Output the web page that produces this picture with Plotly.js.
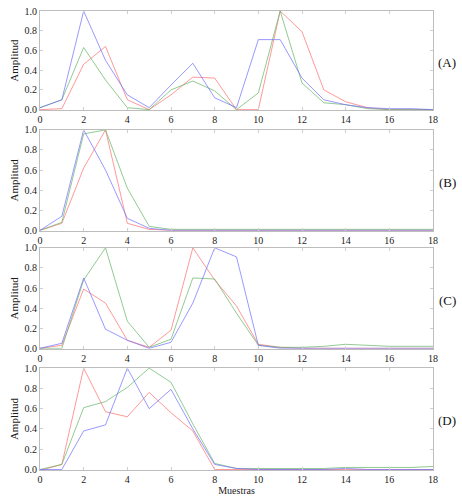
<!DOCTYPE html>
<html>
<head>
<meta charset="utf-8">
<script src="https://cdn.plot.ly/plotly-3.0.1.min.js"></script>
<style>html,body{margin:0;padding:0;background:#fff;}</style>
</head>
<body>
<div id="chart" style="width:462px;height:503px;"></div>
<script>
const muestras = [0,1,2,3,4,5,6,7,8,9,10,11,12,13,14,15,16,17,18];
const panelLabels = ['(A)','(B)','(C)','(D)'];

const azulA  = [0.02,0.10,1.00,0.50,0.15,0.02,0.25,0.47,0.12,0.02,0.71,0.71,0.32,0.10,0.05,0.02,0.01,0.01,0.00];
const verdeA = [0.02,0.10,0.63,0.30,0.02,0.00,0.20,0.29,0.19,0.00,0.17,1.00,0.27,0.07,0.05,0.01,0.00,0.00,0.00];
const rojoA  = [0.00,0.01,0.46,0.64,0.10,0.00,0.15,0.33,0.32,0.00,0.00,1.00,0.79,0.20,0.08,0.02,0.00,0.00,0.00];

const azulB  = [0.00,0.14,1.00,0.60,0.12,0.02,0.00,0.00,0.00,0.00,0.00,0.00,0.00,0.00,0.00,0.00,0.00,0.00,0.00];
const verdeB = [0.00,0.08,0.96,1.00,0.42,0.04,0.01,0.01,0.01,0.01,0.01,0.01,0.01,0.01,0.01,0.01,0.01,0.01,0.01];
const rojoB  = [0.00,0.07,0.62,1.00,0.07,0.01,0.00,0.00,0.00,0.00,0.00,0.00,0.00,0.00,0.00,0.00,0.00,0.00,0.00];

const azulC  = [0.00,0.05,0.70,0.19,0.08,0.00,0.06,0.45,1.00,0.91,0.03,0.00,0.00,0.00,0.00,0.00,0.00,0.00,0.00];
const verdeC = [0.00,0.00,0.68,1.00,0.27,0.01,0.09,0.70,0.69,0.35,0.03,0.01,0.01,0.02,0.04,0.03,0.02,0.02,0.02];
const rojoC  = [0.00,0.03,0.59,0.45,0.08,0.01,0.18,1.00,0.68,0.42,0.04,0.01,0.00,0.00,0.00,0.00,0.00,0.00,0.00];

const azulD  = [0.00,0.00,0.38,0.44,1.00,0.60,0.79,0.40,0.05,0.01,0.00,0.00,0.00,0.00,0.01,0.00,0.00,0.00,0.00];
const verdeD = [0.00,0.05,0.61,0.67,0.81,1.00,0.86,0.45,0.06,0.01,0.01,0.01,0.01,0.01,0.02,0.02,0.02,0.02,0.03];
const rojoD  = [-0.01,0.05,1.00,0.57,0.52,0.76,0.56,0.38,0.00,0.00,0.00,0.00,0.00,0.00,0.00,0.00,0.00,0.00,0.00];

const yTicks = [0,0.2,0.4,0.6,0.8,1.0];
const xTicks = [0,2,4,6,8,10,12,14,16,18];

const panels = [
  [azulA, verdeA, rojoA],
  [azulB, verdeB, rojoB],
  [azulC, verdeC, rojoC],
  [azulD, verdeD, rojoD]
];
const colors = ['rgba(110,110,255,0.7)','rgba(100,180,100,0.7)','rgba(255,110,110,0.7)'];
const domains = [[0.784,1.0],[0.521,0.741],[0.264,0.484],[0.0,0.222]];
const serif = '"Liberation Serif", "Times New Roman", serif';

const traces = [];
const layout = {
  width: 462, height: 503,
  margin: {l:40, r:29, t:11, b:33},
  paper_bgcolor: '#fff', plot_bgcolor: '#fff',
  showlegend: false,
  font: {family: serif, size: 10, color: '#222'},
  annotations: []
};

panels.forEach((series, i) => {
  const n = i + 1;
  const xa = 'x' + (n === 1 ? '' : n);
  const ya = 'y' + (n === 1 ? '' : n);
  [2,1,0].forEach(k => {
    traces.push({
      x: muestras, y: series[k], type: 'scatter', mode: 'lines',
      xaxis: xa, yaxis: ya,
      line: {color: colors[k], width: 1},
      hoverinfo: 'skip'
    });
  });
  const xkey = 'xaxis' + (n === 1 ? '' : n);
  const ykey = 'yaxis' + (n === 1 ? '' : n);
  layout[xkey] = {
    domain: [0,1], anchor: ya, range: [0,18],
    tickvals: xTicks, ticktext: xTicks.map(String),
    showgrid: false, zeroline: false,
    showline: true, linecolor: '#bdbdbd', linewidth: 1, mirror: 'ticks',
    ticks: 'inside', ticklen: 3, tickcolor: '#cfcfcf',
    tickfont: {family: serif, size: 10, color: '#1a1a1a'}
  };
  layout[ykey] = {
    domain: domains[i], anchor: xa, range: [-0.005,1.0],
    tickvals: yTicks, ticktext: yTicks.map(v => v.toFixed(1)),
    showgrid: false, zeroline: false,
    showline: true, linecolor: '#bdbdbd', linewidth: 1, mirror: 'ticks',
    ticks: 'inside', ticklen: 3, tickcolor: '#cfcfcf',
    tickfont: {family: serif, size: 10, color: '#1a1a1a'},
    title: {text: 'Amplitud', font: {family: serif, size: 11, color: '#1a1a1a'}, standoff: 3}
  };
  if (n === 4) {
    layout[xkey].title = {text: 'Muestras', font: {family: serif, size: 10, color: '#1a1a1a'}, standoff: 2};
  }
  layout.annotations.push({
    text: panelLabels[i], xref: 'paper', yref: 'paper',
    x: 1.036, y: (domains[i][0] + domains[i][1]) / 2 - 0.004,
    xanchor: 'center', yanchor: 'middle', showarrow: false,
    font: {family: serif, size: 13, color: '#111'}
  });
});

Plotly.newPlot('chart', traces, layout, {displayModeBar: false, staticPlot: true});
</script>
</body>
</html>
